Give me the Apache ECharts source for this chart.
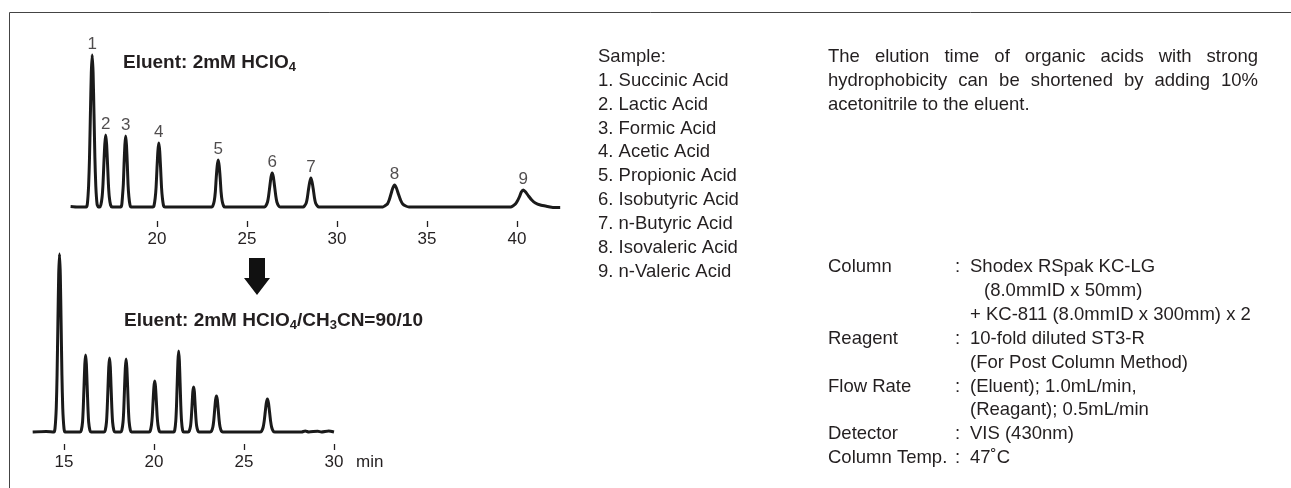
<!DOCTYPE html>
<html>
<head>
<meta charset="utf-8">
<script src="https://cdn.jsdelivr.net/npm/echarts@6/dist/echarts.min.js"></script>
<style>
  html, body { margin: 0; padding: 0; background: #fff; }
  #chart { width: 1291px; height: 488px; }
</style>
</head>
<body>
<div id="chart"></div>
<script>
// tick labels
let topTicks = [20, 25, 30, 35, 40]
let bottomTicks = [15, 20, 25, 30]

// peak numbers on the upper chromatogram
let peakNumbers = ['1', '2', '3', '4', '5', '6', '7', '8', '9']
let peakTimes = [16.4, 17.15, 18.26, 20.1, 23.4, 26.4, 28.55, 33.2, 40.35]
let peakHeights = [152, 72, 71, 64, 47, 34, 29, 22, 17]

// upper trace: eluent 2mM HClO4  [min, signal]
let topTrace = [
  [15.2, 0.5], [15.6, 0], [16.07, 0],
  [16.13, 3], [16.2, 21], [16.25, 49], [16.3, 93], [16.35, 134], [16.4, 152], [16.45, 134], [16.5, 93], [16.55, 49], [16.6, 21], [16.67, 3], [16.74, 0],
  [16.82, 0], [16.88, 2], [16.95, 10], [17.0, 23], [17.05, 44], [17.1, 63], [17.15, 72], [17.2, 63], [17.25, 44], [17.3, 23], [17.35, 10], [17.42, 2], [17.5, 0],
  [17.98, 0], [18.04, 2], [18.08, 10], [18.13, 23], [18.17, 43], [18.215, 62], [18.26, 71], [18.305, 62], [18.35, 43], [18.39, 23], [18.44, 10], [18.5, 2], [18.56, 0],
  [19.77, 0], [19.83, 1], [19.9, 9], [19.95, 20], [20.0, 39], [20.05, 56], [20.1, 64], [20.15, 56], [20.2, 39], [20.25, 20], [20.3, 9], [20.37, 1], [20.44, 0],
  [23.04, 0], [23.1, 1], [23.18, 6], [23.24, 15], [23.29, 29], [23.345, 41], [23.4, 47], [23.455, 41], [23.51, 29], [23.56, 15], [23.62, 6], [23.7, 1], [23.78, 0],
  [25.97, 0], [26.04, 1], [26.14, 5], [26.2, 11], [26.27, 21], [26.335, 30], [26.4, 34], [26.465, 30], [26.53, 21], [26.6, 11], [26.66, 5], [26.76, 1], [26.85, 0],
  [28.12, 0], [28.19, 1], [28.29, 4], [28.35, 9], [28.42, 18], [28.485, 25], [28.55, 29], [28.615, 25], [28.68, 18], [28.75, 9], [28.81, 4], [28.91, 1], [29.0, 0],
  [32.55, 0], [32.65, 1], [32.8, 3], [32.9, 7], [33.0, 13], [33.1, 19], [33.2, 22], [33.3, 19], [33.41, 13], [33.53, 7], [33.65, 3], [33.82, 1], [34.0, 0],
  [39.65, 0], [39.77, 1], [39.91, 3], [40.02, 6], [40.13, 10], [40.24, 15], [40.35, 17], [40.48, 15], [40.64, 11], [40.82, 7], [41.02, 4], [41.3, 2], [41.7, 0.5], [42.0, -0.5], [42.4, -0.5]
]

// lower trace: eluent 2mM HClO4/CH3CN=90/10  [min, signal]
let bottomTrace = [
  [13.26, 0], [14.0, 0.5], [14.44, 0],
  [14.5, 3.5], [14.57, 24], [14.615, 57], [14.66, 108], [14.705, 157], [14.75, 178], [14.795, 157], [14.84, 108], [14.885, 57], [14.93, 24], [15.0, 3.5], [15.06, 0],
  [15.9, 0], [15.96, 1.5], [16.03, 10], [16.072, 25], [16.115, 47], [16.157, 68], [16.2, 77], [16.243, 68], [16.285, 47], [16.328, 25], [16.37, 10], [16.44, 1.5], [16.5, 0],
  [17.23, 0], [17.29, 1.5], [17.36, 10], [17.402, 24], [17.445, 45], [17.487, 65], [17.53, 74], [17.573, 65], [17.615, 45], [17.658, 24], [17.7, 10], [17.77, 1.5], [17.83, 0],
  [18.15, 0], [18.21, 1.5], [18.28, 10], [18.322, 23], [18.365, 45], [18.407, 64], [18.45, 73], [18.493, 64], [18.535, 45], [18.578, 23], [18.62, 10], [18.69, 1.5], [18.75, 0],
  [19.73, 0], [19.79, 1], [19.86, 7], [19.905, 16], [19.95, 31], [19.995, 45], [20.04, 51], [20.085, 45], [20.13, 31], [20.175, 16], [20.22, 7], [20.29, 1], [20.35, 0],
  [21.09, 0], [21.15, 1.6], [21.21, 11], [21.25, 26], [21.29, 49], [21.33, 71], [21.37, 81], [21.41, 71], [21.45, 49], [21.49, 26], [21.53, 11], [21.59, 1.6], [21.65, 0],
  [21.9, 0], [21.96, 1], [22.03, 6], [22.072, 14], [22.115, 27], [22.157, 40], [22.2, 45], [22.243, 40], [22.285, 27], [22.328, 14], [22.37, 6], [22.44, 1], [22.5, 0],
  [23.12, 0], [23.19, 0.7], [23.27, 5], [23.32, 11.5], [23.37, 22], [23.42, 32], [23.47, 36], [23.52, 32], [23.57, 22], [23.62, 11.5], [23.67, 5], [23.75, 0.7], [23.82, 0],
  [25.88, 0], [25.97, 0.7], [26.06, 4.5], [26.12, 10.6], [26.18, 20], [26.24, 29], [26.3, 33], [26.36, 29], [26.42, 20], [26.48, 10.6], [26.54, 4.5], [26.63, 0.7], [26.72, 0],
  [28.2, 0], [28.4, 1], [28.6, 0], [29.1, 0.8], [29.3, 0], [29.7, 1], [30.0, 0]
]

let sampleNames = [
  'Sample:', '1. Succinic Acid', '2. Lactic Acid', '3. Formic Acid', '4. Acetic Acid',
  '5. Propionic Acid', '6. Isobutyric Acid', '7. n-Butyric Acid', '8. Isovaleric Acid', '9. n-Valeric Acid'
]

let noteLines = [
  'The elution time of organic acids with strong',
  'hydrophobicity can be shortened by adding 10%',
  'acetonitrile to the eluent.'
]

let condLabels = ['Column', '', '', 'Reagent', '', 'Flow Rate', '', 'Detector', 'Column Temp.']
let condValues = [
  'Shodex RSpak KC-LG', '(8.0mmID x 50mm)', '+ KC-811 (8.0mmID x 300mm) x 2',
  '10-fold diluted ST3-R', '(For Post Column Method)',
  '(Eluent); 1.0mL/min,', '(Reagant); 0.5mL/min',
  'VIS (430nm)', '47˚C'
]

const FONT = '"Liberation Sans", Arial, Helvetica, sans-serif'
const INK = '#231f20'
const BODY = 18.5

function txt(x, y, s, extra) {
  return {
    type: 'text', x: x, y: y, silent: true,
    style: Object.assign({
      text: s, fill: INK, fontSize: BODY, fontFamily: FONT,
      align: 'left', verticalAlign: 'middle', textAlign: 'left', textVerticalAlign: 'middle'
    }, extra || {})
  }
}

let measure = document.createElement('canvas').getContext('2d')
function justified(line, x0, x1, y) {
  measure.font = BODY + 'px ' + FONT
  let words = line.split(' ')
  let widths = words.map(w => measure.measureText(w).width)
  let gap = (x1 - x0 - widths.reduce((a, b) => a + b, 0)) / (words.length - 1)
  let x = x0
  return words.map((w, i) => {
    let el = txt(x, y, w)
    x += widths[i] + gap
    return el
  })
}

let graphics = []
// frame
graphics.push({
  type: 'polyline', silent: true,
  shape: { points: [[9.5, 488], [9.5, 12.5], [1291, 12.5]] },
  style: { stroke: '#444', lineWidth: 1, fill: null }
})
// eluent captions
let eluRich = {
  b: { fontSize: 19, fontWeight: 'bold', fontFamily: FONT, fill: INK, lineHeight: 22 },
  s: { fontSize: 13, fontWeight: 'bold', fontFamily: FONT, fill: INK, lineHeight: 14, verticalAlign: 'bottom' }
}
graphics.push(txt(123, 63, '{b|Eluent: 2mM HClO}{s|4}', { rich: eluRich }))
graphics.push(txt(124, 321, '{b|Eluent: 2mM HClO}{s|4}{b|/CH}{s|3}{b|CN=90/10}', { rich: eluRich }))
// down arrow
graphics.push({
  type: 'polygon', silent: true,
  shape: { points: [[249, 258], [265, 258], [265, 278], [270, 278], [257, 295], [244, 278], [249, 278]] },
  style: { fill: '#111' }
})
// sample list
sampleNames.forEach((s, i) => graphics.push(txt(598, 57 + i * 23.85, s)))
// note
graphics = graphics.concat(justified(noteLines[0], 828, 1258, 57))
graphics = graphics.concat(justified(noteLines[1], 828, 1258, 81))
graphics.push(txt(828, 104.5, noteLines[2]))
// conditions
condValues.forEach((v, i) => {
  let y = 267 + i * 23.9
  if (condLabels[i]) {
    graphics.push(txt(828, y, condLabels[i]))
    graphics.push(txt(955, y, ':'))
  }
  graphics.push(txt(i === 1 ? 984 : 970, y, v))
})

function xAxisOf(grid, min, max, ticks, extra) {
  return Object.assign({
    type: 'value', gridIndex: grid, min: min, max: max,
    axisLine: { show: false, onZero: false },
    splitLine: { show: false },
    axisTick: { show: true, length: 6, customValues: ticks, lineStyle: { color: INK, width: 1.3 } },
    axisLabel: { customValues: ticks, margin: 10, fontSize: 17, color: INK, fontFamily: FONT }
  }, extra || {})
}

let option = {
  animation: false,
  backgroundColor: '#fff',
  grid: [
    { left: 67, top: 40, width: 504, height: 181 },
    { left: 28, top: 250, width: 306, height: 194 }
  ],
  xAxis: [
    xAxisOf(0, 15, 43, topTicks),
    xAxisOf(1, 13, 30, bottomTicks, {
      name: 'min', nameLocation: 'end', nameGap: 22,
      nameTextStyle: { fontSize: 17, color: INK, fontFamily: FONT, align: 'left', verticalAlign: 'top', padding: [10, 0, 0, 0] }
    })
  ],
  yAxis: [
    { type: 'value', gridIndex: 0, min: -14, max: 167, show: false },
    { type: 'value', gridIndex: 1, min: -12, max: 182, show: false }
  ],
  series: [
    {
      type: 'line', xAxisIndex: 0, yAxisIndex: 0, data: topTrace,
      symbol: 'none', smooth: 0.2, lineStyle: { color: '#1a1a1a', width: 3 }
    },
    {
      type: 'scatter', xAxisIndex: 0, yAxisIndex: 0, symbolSize: 1,
      itemStyle: { color: 'transparent' },
      data: peakTimes.map((t, i) => ({ value: [t, peakHeights[i]], name: peakNumbers[i] })),
      label: { show: true, position: 'top', distance: 2, formatter: '{b}', fontSize: 17, color: INK, fontFamily: FONT }
    },
    {
      type: 'line', xAxisIndex: 1, yAxisIndex: 1, data: bottomTrace,
      symbol: 'none', smooth: 0.2, lineStyle: { color: '#1a1a1a', width: 3 }
    }
  ],
  graphic: graphics
}

let oChart = echarts.init(document.getElementById('chart'))
oChart.setOption(option)
</script>
</body>
</html>
